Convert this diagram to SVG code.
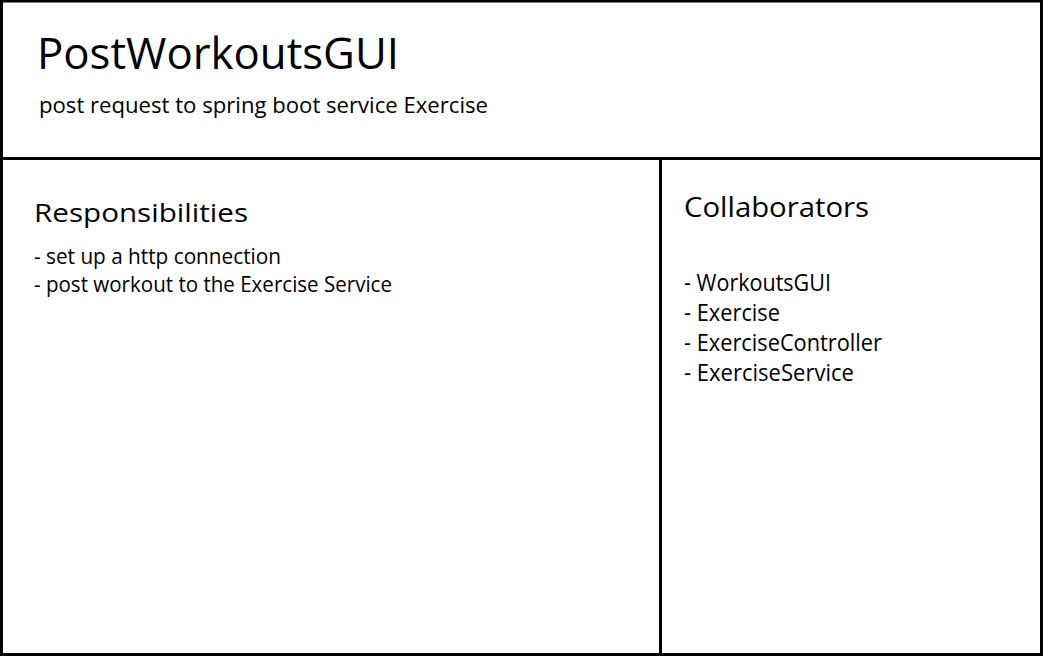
<svg xmlns="http://www.w3.org/2000/svg" width="1043" height="656" viewBox="0 0 1043 656">
<style>
.ln{stroke:#000;stroke-width:3;fill:none}
text{font-family:"Open Sans","Noto Sans","Liberation Sans",sans-serif;fill:#000}
.t{font-size:44px}
.s{font-size:21px}
.h1{font-size:26px}
.h2{font-size:28px}
.i{font-size:21px}
.c{font-size:23px}
</style>
<rect x="0" y="0" width="1043" height="656" fill="#fff"/>
<g id="card">
<rect class="ln" x="1.5" y="1" width="1040" height="653.5"/>
<line class="ln" x1="0" y1="158.5" x2="1043" y2="158.5"/>
<line class="ln" x1="660.5" y1="158" x2="660.5" y2="656"/>
</g>
<g id="header">
<text class="t" x="37" y="69" textLength="362" lengthAdjust="spacingAndGlyphs">PostWorkoutsGUI</text>
<text class="s" x="39" y="113" textLength="449" lengthAdjust="spacingAndGlyphs">post request to spring boot service Exercise</text>
</g>
<g id="responsibilities">
<text class="h1" x="34" y="222" textLength="214" lengthAdjust="spacingAndGlyphs">Responsibilities</text>
<text class="i" x="34" y="264" textLength="247" lengthAdjust="spacingAndGlyphs">- set up a http connection</text>
<text class="i" x="34" y="292" textLength="358" lengthAdjust="spacingAndGlyphs">- post workout to the Exercise Service</text>
</g>
<g id="collaborators">
<text class="h2" x="684" y="217" textLength="185" lengthAdjust="spacingAndGlyphs">Collaborators</text>
<text class="c" x="684" y="291" textLength="147" lengthAdjust="spacingAndGlyphs">- WorkoutsGUI</text>
<text class="c" x="684" y="321" textLength="96" lengthAdjust="spacingAndGlyphs">- Exercise</text>
<text class="c" x="684" y="351" textLength="198" lengthAdjust="spacingAndGlyphs">- ExerciseController</text>
<text class="c" x="684" y="381" textLength="170" lengthAdjust="spacingAndGlyphs">- ExerciseService</text>
</g>
<g id="connectors"></g>
</svg>
